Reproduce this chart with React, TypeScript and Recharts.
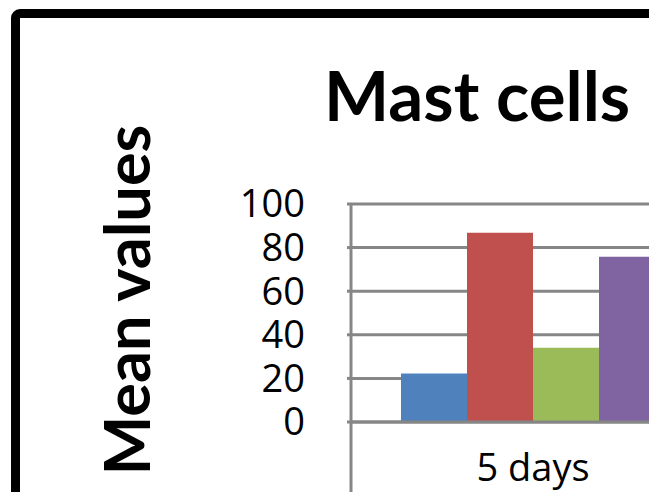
import React from "react";
import { Bar, BarChart, CartesianGrid, XAxis, YAxis } from "recharts";

// values (only the first category is visible)
const categories = ["5 days"];
const series1 = [22.3];
const series2 = [86.8];
const series3 = [34.1];
const series4 = [75.8];
const yTicks = [0, 20, 40, 60, 80, 100];

const SERIES = [
  { key: "s1", name: "Series 1", color: "#4F81BD" },
  { key: "s2", name: "Series 2", color: "#C0504D" },
  { key: "s3", name: "Series 3", color: "#9BBB59" },
  { key: "s4", name: "Series 4", color: "#8064A2" },
];

const data = categories.map((c, i) => ({
  name: c,
  s1: series1[i],
  s2: series2[i],
  s3: series3[i],
  s4: series4[i],
}));

const GRID = "#868686";

export default function App() {
  return (
    <div
      style={{
        position: "fixed",
        left: 0,
        top: 0,
        width: 649,
        height: 492,
        overflow: "hidden",
        background: "#ffffff",
      }}
    >
      {/* outer chart frame, cropped at right and bottom */}
      <div
        style={{
          position: "absolute",
          left: 11,
          top: 9,
          width: 900,
          height: 700,
          border: "9px solid #000",
          borderRadius: 9,
          boxSizing: "border-box",
        }}
      />

      <div style={{ position: "absolute", left: 0, top: 0 }}>
        <BarChart
          width={760}
          height={600}
          data={data}
          margin={{ top: 204, right: 45, left: 101, bottom: 0 }}
          barCategoryGap={50}
          barGap={0}
        >
          <CartesianGrid horizontal vertical={false} stroke={GRID} strokeWidth={3} />
          <XAxis
            dataKey="name"
            height={178}
            axisLine={{ stroke: GRID, strokeWidth: 3 }}
            tickLine={false}
            tickMargin={26}
            tick={{ fontSize: 38, fill: "#000", fontFamily: "'Open Sans', sans-serif" }}
          />
          <YAxis
            width={250}
            domain={[0, 100]}
            ticks={yTicks}
            interval={0}
            axisLine={{ stroke: GRID, strokeWidth: 3 }}
            tickLine={{ stroke: GRID, strokeWidth: 3 }}
            tickSize={4}
            tickMargin={42}
            tick={{ fontSize: 38, fill: "#000", fontFamily: "'Open Sans', sans-serif" }}
          />
          {SERIES.map((s) => (
            <Bar key={s.key} dataKey={s.key} name={s.name} fill={s.color} isAnimationActive={false} />
          ))}
        </BarChart>
      </div>

      <svg
        width={649}
        height={492}
        style={{ position: "absolute", left: 0, top: 0, pointerEvents: "none" }}
      >
        {/* category divider tick below the axis */}
        <line x1={351} y1={422} x2={351} y2={492} stroke={GRID} strokeWidth={3} />
        <text
          x={324}
          y={121}
          fontFamily="Lato, sans-serif"
          fontWeight={700}
          fontSize={69}
          fill="#000"
        >
          Mast cells
        </text>
        <text
          x={150}
          y={300}
          transform="rotate(-90 150 300)"
          textAnchor="middle"
          fontFamily="Lato, sans-serif"
          fontWeight={700}
          fontSize={63}
          fill="#000"
        >
          Mean values
        </text>
      </svg>
    </div>
  );
}
